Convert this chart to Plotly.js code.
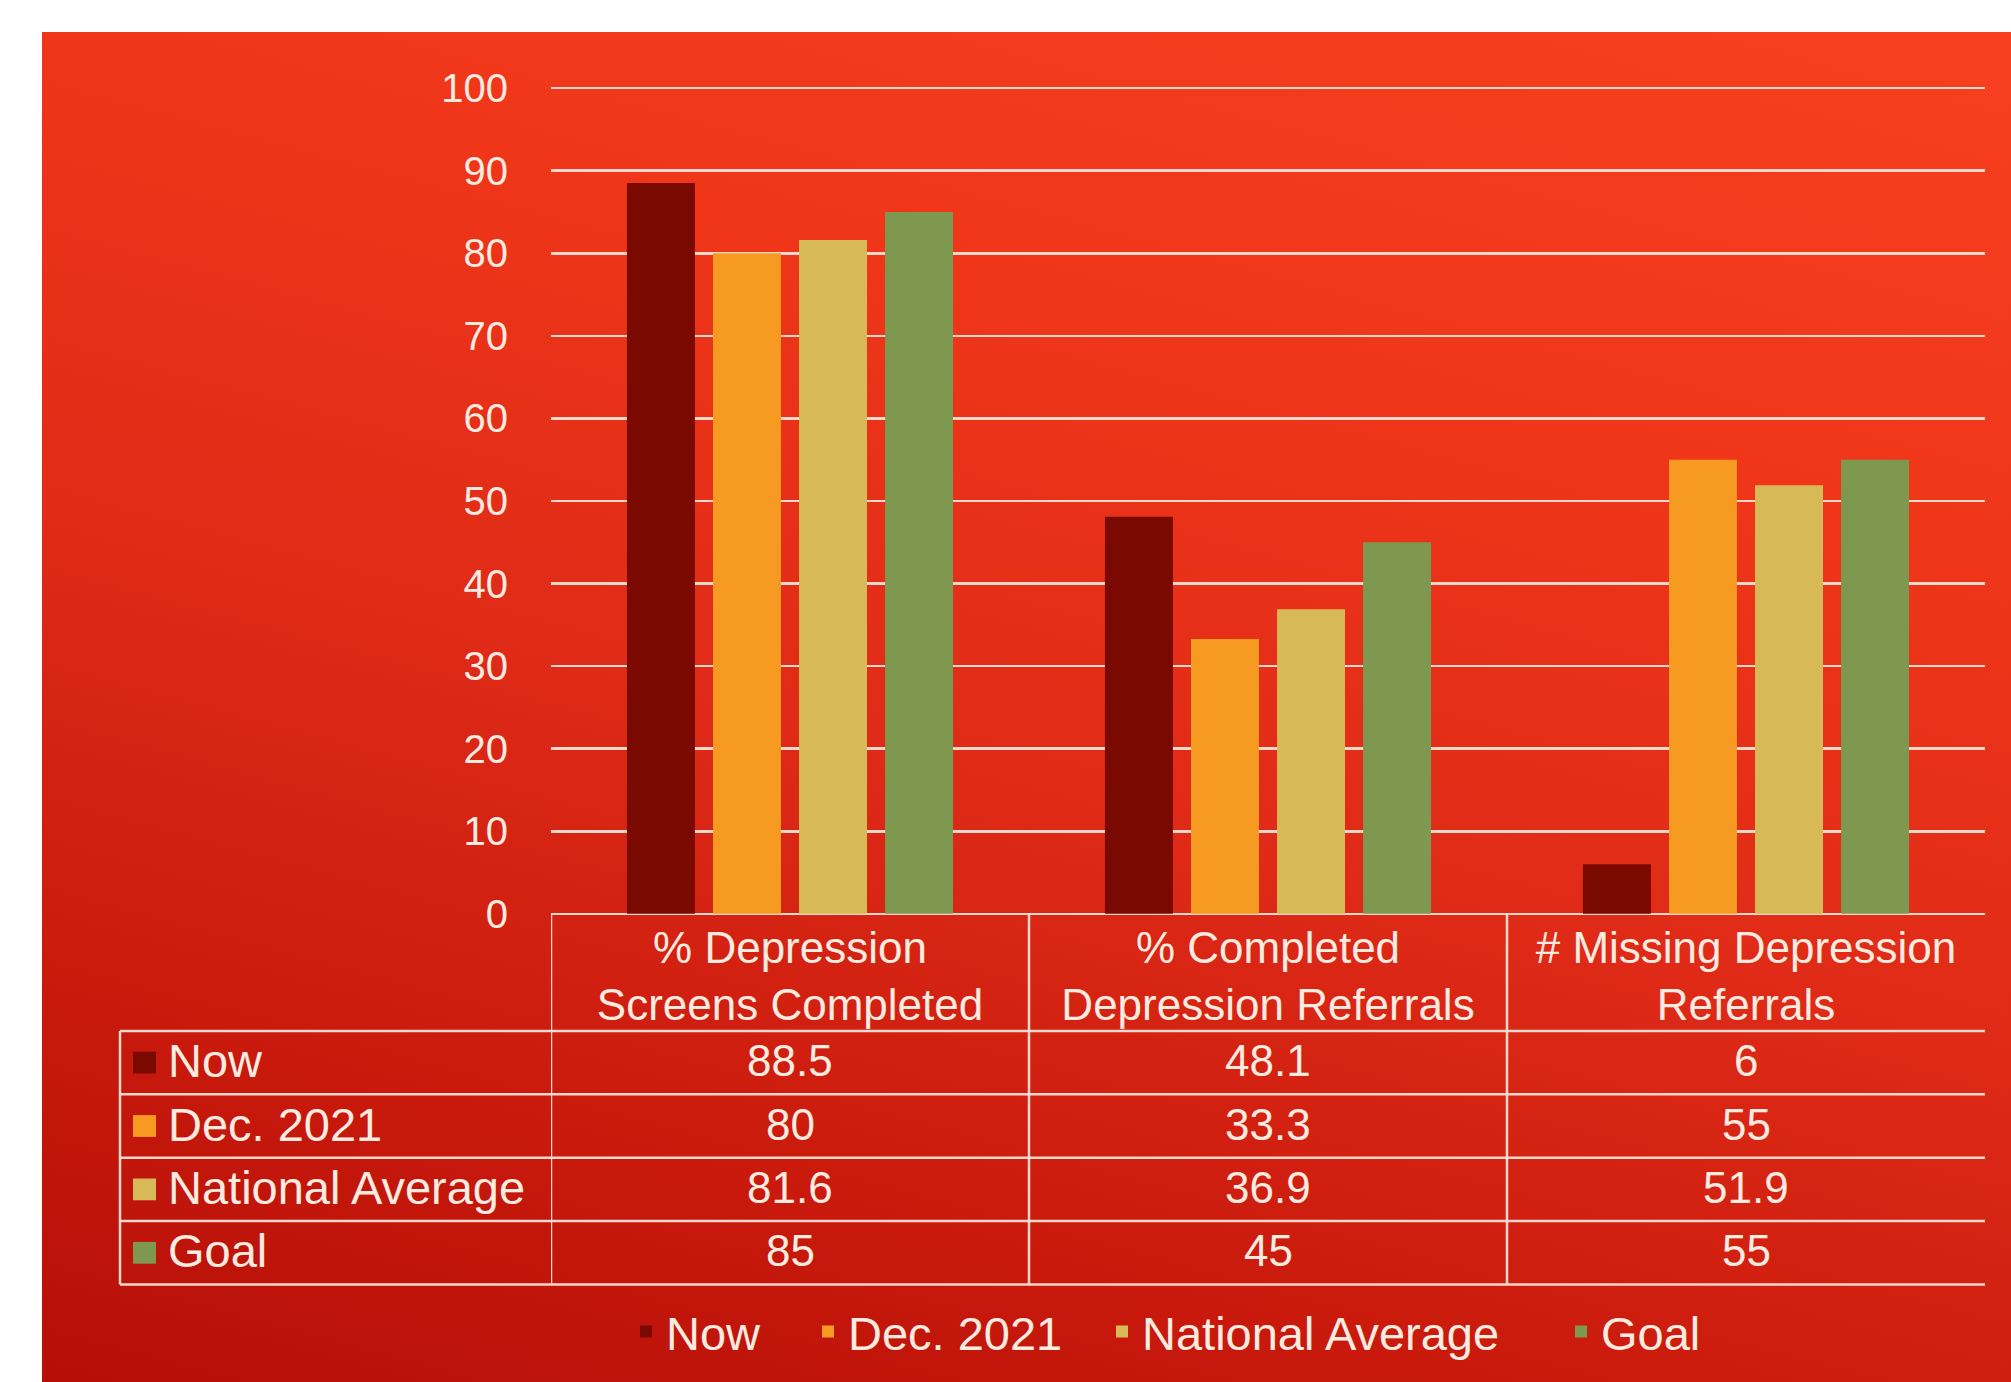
<!DOCTYPE html>
<html><head><meta charset="utf-8">
<script src="https://cdn.plot.ly/plotly-3.0.1.min.js"></script>
<style>
html,body{margin:0;padding:0;background:#fff;width:2011px;height:1382px;overflow:hidden;}
#bg{position:absolute;left:42px;top:32px;width:1969px;height:1350px;
background:linear-gradient(195deg,#f83f1f 0%,#ef3619 28%,#de2a17 55%,#c8190c 80%,#b50f08 100%);}
#chart{position:absolute;left:0;top:0;width:2011px;height:1382px;}
</style></head><body><div id="bg"></div><div id="chart"></div>
<script>
// ---- data ----
const categories = ["% Depression<br>Screens Completed", "% Completed<br>Depression Referrals", "# Missing Depression<br>Referrals"];
const seriesNames = ["Now", "Dec. 2021", "National Average", "Goal"];
const nowValues = [88.5, 48.1, 6];
const dec2021Values = [80, 33.3, 55];
const nationalAverageValues = [81.6, 36.9, 51.9];
const goalValues = [85, 45, 55];
const yTickValues = [0, 10, 20, 30, 40, 50, 60, 70, 80, 90, 100];

// ---- styles ----
const seriesColors = ["#7a0902", "#f69a21", "#d8b957", "#7f984f"];
const textColor = "#fdebe0";
const lineColor = "#f7d8ca";
const fontFamily = "Liberation Sans, Arial, sans-serif";
const allSeries = [nowValues, dec2021Values, nationalAverageValues, goalValues];

// plot box in page pixels (layout only)
const W = 2011, H = 1382;
const M = {l: 551, r: 26, t: 84, b: 456};
const plotW = W - M.l - M.r, plotH = H - M.t - M.b;
const px = X => (X - M.l) / plotW;          // page x -> paper x
const py = Y => (H - M.b - Y) / plotH;      // page y -> paper y

const legendIds = ["legend", "legend2", "legend3", "legend4"];
const traces = allSeries.map((vals, i) => ({
  type: "bar",
  name: seriesNames[i],
  x: categories,
  y: vals,
  legend: legendIds[i],
  marker: {color: seriesColors[i], line: {width: 0}},
  hoverinfo: "name+y"
}));

// table geometry
const tableTopY = py(922), headerBottomY = py(1040), rowPx = 64;
const tableLeft = px(120);
const rowLineY = r => py(1040 + rowPx * r);
const tableBottom = rowLineY(seriesNames.length);

const shapes = [];
const annotations = [];
[-0.5, 0.5, 1.5].forEach(xb => {
  shapes.push({type: "line", xref: "x", yref: "paper", x0: xb, x1: xb, y0: tableTopY, y1: tableBottom,
    line: {color: lineColor, width: 2.5}});
});
shapes.push({type: "line", xref: "paper", yref: "paper", x0: tableLeft, x1: tableLeft, y0: headerBottomY, y1: tableBottom,
  line: {color: lineColor, width: 2.5}});
for (let r = 0; r <= seriesNames.length; r++) {
  const yy = rowLineY(r);
  shapes.push({type: "line", xref: "paper", yref: "paper", x0: tableLeft, x1: 1, y0: yy, y1: yy,
    line: {color: lineColor, width: 2.5}});
}
seriesNames.forEach((nm, r) => {
  const ycPx = 1040 + rowPx * (r + 0.5);
  // colour key square
  shapes.push({type: "rect", xref: "paper", yref: "paper", x0: px(133), x1: px(156), y0: py(ycPx - 11), y1: py(ycPx + 11),
    fillcolor: seriesColors[r], line: {width: 0}});
  annotations.push({xref: "paper", yref: "paper", x: px(166), y: py(ycPx - 2), xanchor: "left", yanchor: "middle",
    showarrow: false, align: "left", text: nm,
    font: {family: fontFamily, size: 47, color: textColor}});
  allSeries[r].forEach((v, c) => {
    annotations.push({xref: "x", yref: "paper", x: c, y: py(ycPx - 2), xanchor: "center", yanchor: "middle",
      showarrow: false, text: String(v),
      font: {family: fontFamily, size: 44, color: textColor}});
  });
});

const legendTextStarts = [666, 848, 1142, 1601];
const legendBase = {orientation: "h", xanchor: "left", y: py(1344), yanchor: "middle",
  font: {size: 47, color: textColor, family: fontFamily}, bgcolor: "rgba(0,0,0,0)", borderwidth: 0};

const layout = {
  width: W, height: H,
  paper_bgcolor: "rgba(0,0,0,0)", plot_bgcolor: "rgba(0,0,0,0)",
  margin: M,
  barmode: "group", bargap: 0.28, bargroupgap: 0.21,
  font: {family: fontFamily, color: textColor, size: 44},
  xaxis: {type: "category", range: [-0.5, 2.5], showgrid: false, zeroline: false, showline: false,
    ticks: "", ticklabelstandoff: 0, tickfont: {size: 44, color: textColor, family: fontFamily}, fixedrange: true},
  yaxis: {range: [-0.5, 100.5], tickvals: yTickValues, ticktext: yTickValues.map(String),
    showgrid: true, gridcolor: lineColor, gridwidth: 2.5, zeroline: false, showline: false,
    ticks: "", ticklabelstandoff: 42, tickfont: {size: 40, color: textColor, family: fontFamily}, fixedrange: true},
  showlegend: true,
  shapes: shapes,
  annotations: annotations
};
legendIds.forEach((id, i) => {
  layout[id] = Object.assign({}, legendBase, {x: px(legendTextStarts[i] - 40)});
});

Plotly.newPlot("chart", traces, layout, {displayModeBar: false, staticPlot: true});
</script></body></html>
